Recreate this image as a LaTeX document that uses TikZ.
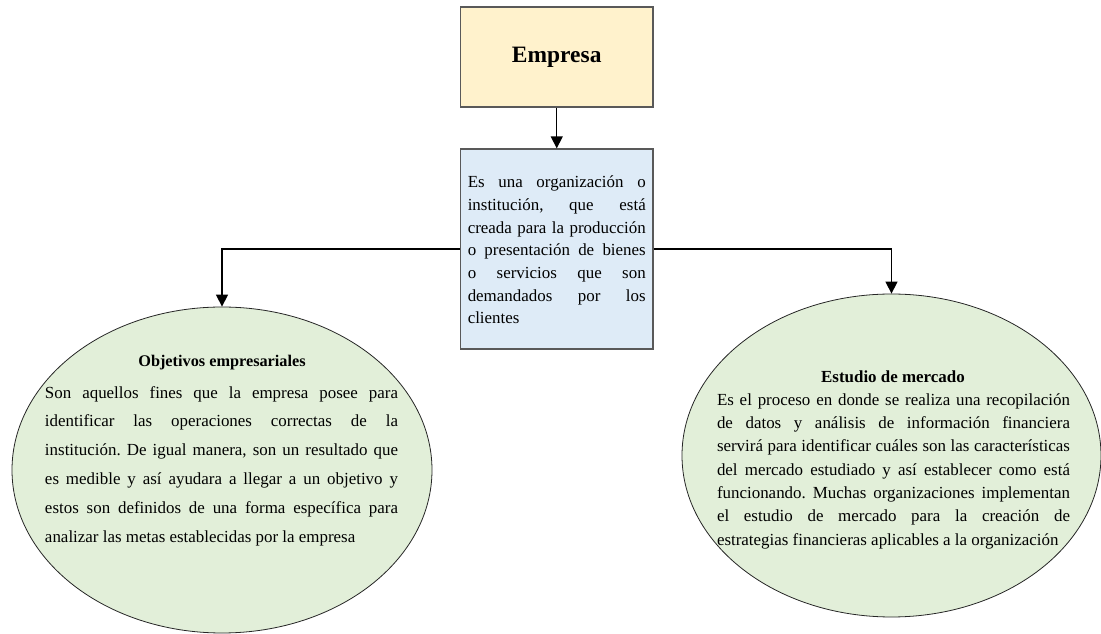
\documentclass[tikz,border=0pt]{standalone}
\usepackage{fontspec}
\setmainfont{Liberation Serif}
\usetikzlibrary{arrows.meta,shapes.geometric}
\definecolor{amarillo}{HTML}{FFF2CC}
\definecolor{celeste}{HTML}{DEEBF7}
\definecolor{verde}{HTML}{E2EFD9}
\tolerance=10000
\hbadness=10000
\hyphenpenalty=10000
\frenchspacing

\begin{document}
\begin{tikzpicture}[x=0.75pt,y=-0.75pt,
    caja/.style={draw=black!65,line width=1pt,minimum width=144.4pt},
    globo/.style={ellipse,draw=black!85,line width=0.6pt,fill=verde},
    flecha/.style={-{Triangle[width=9pt,length=9pt]},line width=1.1pt},
    texto/.style={inner sep=0pt,align=justify},
    titulo/.style={inner sep=0pt,font=\fontsize{12.2pt}{14pt}\selectfont\bfseries}]

\useasboundingbox (0,0) rectangle (1101,634);

    \node[caja,fill=amarillo,minimum height=75pt,font=\fontsize{17.6pt}{21pt}\selectfont\bfseries] (empresa) at (556.75,57) {Empresa};
    \node[caja,fill=celeste,minimum height=150pt] (definicion) at (556.75,249) {};
    \node[texto,text width=133.5pt,font=\fontsize{12.7pt}{17pt}\selectfont] (deftexto) at (556.75,250)
    {Es una organización o\linebreak institución, que está\linebreak creada para la producción\linebreak o presentación de bienes\linebreak o servicios que son\linebreak demandados por los\linebreak clientes};

    \node[globo,minimum width=315pt,minimum height=244.5pt] (objetivos) at (222,470) {};
    \node[globo,minimum width=314.25pt,minimum height=242.25pt] (estudio) at (891.5,455.5) {};

    \draw[flecha] (empresa) -- (definicion);
    \draw[flecha] (definicion.west) -| (objetivos.north);
    \draw[flecha] (definicion.east) -| (estudio.north);

    % objetivos
    \node[titulo] (objtitulo) at (222,363) {Objetivos empresariales};
    \node[texto,text width=264.75pt,font=\fontsize{12.7pt}{21.6pt}\selectfont] (objtexto) at (221.5,466)
    {Son aquellos fines que la empresa posee para\linebreak identificar las operaciones correctas de la\linebreak institución. De igual manera, son un resultado que\linebreak es medible y así ayudara a llegar a un objetivo y\linebreak estos son definidos de una forma específica para\linebreak analizar las metas establecidas por la empresa};

    % estudio
    \node[titulo,font=\fontsize{12.7pt}{14pt}\selectfont\bfseries] (esttitulo) at (893,377) {Estudio de mercado};
    \node[texto,text width=264.75pt,font=\fontsize{12.7pt}{17.5pt}\selectfont] (esttexto) at (893.5,471)
    {Es el proceso en donde se realiza una recopilación\linebreak de datos y análisis de información financiera\linebreak servirá para identificar cuáles son las características\linebreak del mercado estudiado y así establecer como está\linebreak funcionando. Muchas organizaciones implementan\linebreak el estudio de mercado para la creación de\linebreak estrategias financieras aplicables a la organización};
\end{tikzpicture}
\end{document}
